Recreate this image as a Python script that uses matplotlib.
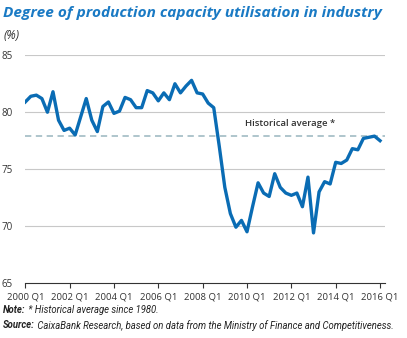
import matplotlib
matplotlib.use("Agg")
import matplotlib.pyplot as plt
import numpy as np

values = [80.9, 81.4, 81.5, 81.2, 80.0, 81.8, 79.3, 78.4, 78.6, 78.0,
          79.6, 81.2, 79.3, 78.3, 80.5, 80.9, 79.9, 80.1, 81.3, 81.1,
          80.4, 80.4, 81.9, 81.7, 81.0, 81.7, 81.1, 82.5, 81.7, 82.3,
          82.8, 81.7, 81.6, 80.8, 80.4, 77.0, 73.4, 71.1, 69.9, 70.5,
          69.5, 71.7, 73.8, 72.9, 72.6, 74.6, 73.4, 72.9, 72.7, 72.9,
          71.7, 74.3, 69.4, 73.0, 73.9, 73.7, 75.6, 75.5, 75.8, 76.8,
          76.7, 77.7, 77.8, 77.9, 77.5]
historical_avg = 77.9
tick_labels = ["2000 Q1", "2002 Q1", "2004 Q1", "2006 Q1", "2008 Q1",
               "2010 Q1", "2012 Q1", "2014 Q1", "2016 Q1"]
y_ticks = [65, 70, 75, 80, 85]

W, H = 407, 338
fig = plt.figure(figsize=(W / 100, H / 100), dpi=100)
ax = fig.add_axes([0.0614, 0.1627, 0.8846, 0.6737])

x = np.arange(len(values))
ax.set_xlim(-0.05, 64.9)
ax.set_ylim(65, 85)

for yv in y_ticks[1:]:
    ax.axhline(yv, color="#c8c8c8", lw=0.8, zorder=1)
ax.axhline(historical_avg, color="#a8c0c8", lw=1.3, ls=(0, (3.5, 2.5)), zorder=2)
ax.plot(x, values, color="#0a6cb4", lw=2.4, zorder=3, solid_joinstyle="round")

ax.text(39.6, 79.0, "Historical average *", fontsize=6.8, color="#333333",
        ha="left", va="center", family="Open Sans", fontweight="semibold")

for s in ["top", "right", "left"]:
    ax.spines[s].set_visible(False)
ax.spines["bottom"].set_color("#333333")
ax.spines["bottom"].set_linewidth(0.8)

ax.set_yticks(y_ticks)
ax.set_yticklabels([str(v) for v in y_ticks], fontsize=7, color="#333333", family="Open Sans")
ax.tick_params(axis="y", length=0, pad=9)
ax.set_xticks(np.arange(0, 65, 8))
ax.set_xticklabels(tick_labels, fontsize=6.8, color="#333333", family="Open Sans")
ax.tick_params(axis="x", length=3.5, width=0.8, color="#333333", pad=3)

fig.text(0.008, 0.962, "Degree of production capacity utilisation in industry",
         fontsize=11.05, fontweight="bold", fontstyle="italic", color="#1a7ac4",
         family="Open Sans", ha="left", va="center")
fig.text(0.008, 0.896, "(%)", fontsize=8.5, fontstyle="italic", color="#333333",
         family="Open Sans", ha="left", va="center")

renderer = fig.canvas.get_renderer()


def line_of_text(parts, y, size=6.0):
    xp = 3.0
    objs = []
    for txt, bold in parts:
        t = fig.text(xp / W, y, txt, fontsize=size, fontstyle="italic",
                     fontweight="bold" if bold else "normal", color="#222222",
                     family=["Roboto", "DejaVu Sans"], ha="left", va="center")
        bb = t.get_window_extent(renderer)
        xp += bb.width
        objs.append(t)
    return objs, xp


parts_src = [("Source:", True), (" CaixaBank Research, based on data from the Ministry of Finance and Competitiveness.", False)]
objs, right = line_of_text(parts_src, 0.037)
scale = (395 - 3) / (right - 3)
for o in objs:
    o.remove()
size = 6.0 * scale
line_of_text(parts_src, 0.037, size=size)
line_of_text([("Note:", True), (" * Historical average since 1980.", False)], 0.082, size=size)

fig.savefig("out.png", dpi=100)
